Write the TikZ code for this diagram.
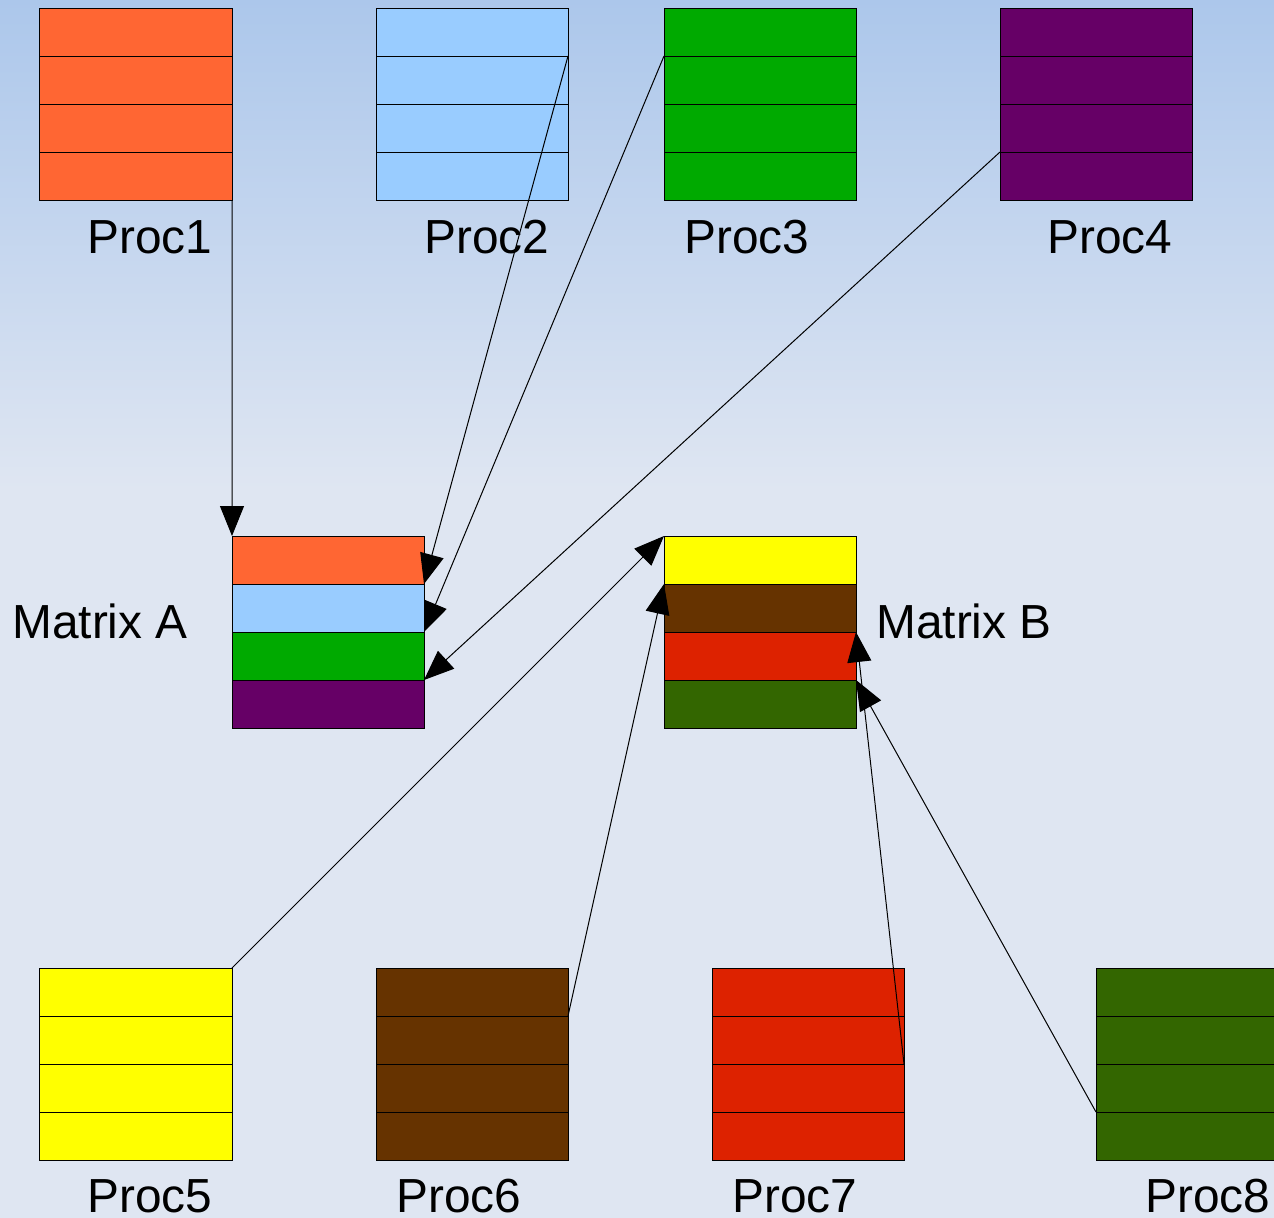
\documentclass[tikz,border=0pt]{standalone}
\usepackage{fontspec}
\setmainfont{Liberation Sans}
\usetikzlibrary{arrows.meta}

\definecolor{bgTop}{HTML}{ACC7EB}
\definecolor{bgLow}{HTML}{DFE6F2}
\definecolor{cOrange}{HTML}{FF6633}
\definecolor{cSky}{HTML}{99CCFF}
\definecolor{cGreen}{HTML}{00AA00}
\definecolor{cPurple}{HTML}{660066}
\definecolor{cYellow}{HTML}{FFFF00}
\definecolor{cBrown}{HTML}{663300}
\definecolor{cRed}{HTML}{DD2200}
\definecolor{cOlive}{HTML}{336600}

\tikzset{
  cell/.style={draw=black, line width=1bp, minimum width=192bp, minimum height=48bp,
               inner sep=0pt, outer sep=0pt},
  lbl/.style={font=\fontsize{48}{52}\selectfont, inner sep=0pt},
  feed/.style={draw=black, line width=1bp, -{Triangle[length=30bp,width=24bp]}, shorten >=0pt}
}

\begin{document}
\begin{tikzpicture}[x=1bp, y=-1bp]
  \useasboundingbox (0,0) rectangle (1274,1218);
  \clip (0,0) rectangle (1274,1218);

  % background: blue at the top fading to a pale plateau
  \shade[top color=bgTop, bottom color=bgLow] (0,0) rectangle (1274,490);
  \fill[bgLow] (0,489) rectangle (1274,1218);

  % process blocks, four rows each
  \foreach \n/\x/\y/\c in {p1/136/8/cOrange, p2/472/8/cSky, p3/760/8/cGreen, p4/1096/8/cPurple,
                           p5/136/968/cYellow, p6/472/968/cBrown, p7/808/968/cRed, p8/1192/968/cOlive}{
    \foreach \r in {1,...,4}{
      \node[cell, fill=\c] (\n r\r) at (\x, \y+48*\r-24) {};
    }
  }

  % matrix A
  \node[cell, fill=cOrange] (mAr1) at (328,560) {};
  \node[cell, fill=cSky]    (mAr2) at (328,608) {};
  \node[cell, fill=cGreen]  (mAr3) at (328,656) {};
  \node[cell, fill=cPurple] (mAr4) at (328,704) {};

  % matrix B
  \node[cell, fill=cYellow] (mBr1) at (760,560) {};
  \node[cell, fill=cBrown]  (mBr2) at (760,608) {};
  \node[cell, fill=cRed]    (mBr3) at (760,656) {};
  \node[cell, fill=cOlive]  (mBr4) at (760,704) {};

  % labels
  \node[lbl] (l1) at (150,237) {Proc1};
  \node[lbl] (l2) at (487,237) {Proc2};
  \node[lbl] (l3) at (747,237) {Proc3};
  \node[lbl] (l4) at (1110,237) {Proc4};
  \node[lbl] (l5) at (150,1196) {Proc5};
  \node[lbl] (l6) at (459,1196) {Proc6};
  \node[lbl] (l7) at (795,1196) {Proc7};
  \node[lbl] (l8) at (1208,1196) {Proc8};
  \node[lbl] (lA) at (100,621) {Matrix A};
  \node[lbl] (lB) at (964,621) {Matrix B};

  % gathering into matrix A
  \draw[feed] (p1r4.south east) -- (mAr1.north west);
  \draw[feed] (p2r2.north east) -- (mAr1.south east);
  \draw[feed] (p3r2.north west) -- (mAr2.south east);
  \draw[feed] (p4r4.north west) -- (mAr3.south east);

  % gathering into matrix B
  \draw[feed] (p5r1.north east) -- (mBr1.north west);
  \draw[feed] (p6r2.north east) -- (mBr1.south west);
  \draw[feed] (p7r3.north east) -- (mBr2.south east);
  \draw[feed] (p8r4.north west) -- (mBr3.south east);
\end{tikzpicture}
\end{document}
